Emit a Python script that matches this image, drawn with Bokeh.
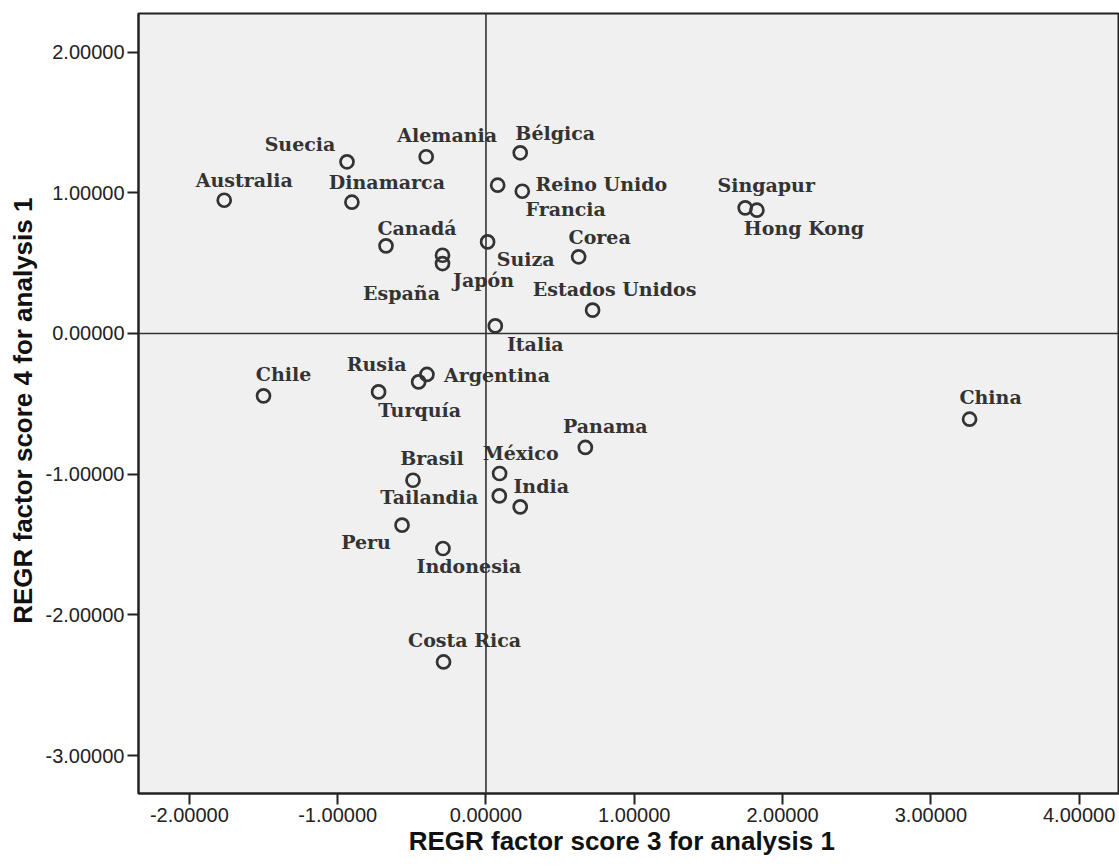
from bokeh.plotting import figure
from bokeh.models import ColumnDataSource, Span, PrintfTickFormatter, FixedTicker, Range1d
from bokeh.core.properties import value
from bokeh.embed import file_html
from bokeh.resources import INLINE

# ---- data ----
countries = ["Australia", "Suecia", "Dinamarca", "Alemania", "Bélgica", "Reino Unido",
             "Francia", "Singapur", "Hong Kong", "Canadá", "Suiza", "Corea", "Japón",
             "España", "Estados Unidos", "Italia", "Chile", "Rusia", "Argentina",
             "Turquía", "Panama", "México", "Tailandia", "India", "Brasil", "Peru",
             "Indonesia", "Costa Rica", "China"]
score3 = [-1.765, -0.937, -0.904, -0.403, 0.231, 0.245,
          0.079, 1.748, 1.827, -0.674, 0.011, 0.625, -0.293,
          -0.293, 0.719, 0.063, -1.500, -0.454, -0.398,
          -0.724, 0.670, 0.092, 0.090, 0.231, -0.492, -0.566,
          -0.290, -0.286, 3.261]
score4 = [0.947, 1.220, 0.933, 1.256, 1.284, 1.011,
          1.054, 0.893, 0.876, 0.623, 0.651, 0.545, 0.556,
          0.497, 0.166, 0.054, -0.443, -0.344, -0.291,
          -0.415, -0.810, -0.995, -1.154, -1.232, -1.043, -1.362,
          -1.528, -2.334, -0.609]
x_ticks = [-2, -1, 0, 1, 2, 3, 4]
y_ticks = [-3, -2, -1, 0, 1, 2]

# label placement (screen pixels relative to each point)
label_dx = [20, -47, 35, 21, 35, 79,
            68, 21, 47, 31, 38, 21, 41,
            -41, 22, 40, 20, -42, 70,
            41, 20, 21, -70, 21, 19, -36,
            26, 21, 21]
label_dy = [-20, -18, -20, -22, -20, -7,
            24, -23, 18, -18, 17, -20, 25,
            29, -21, 18, -22, -18, 1,
            18, -21, -21, 1, -21, -22, 17,
            17, -22, -22]

src = ColumnDataSource(dict(x=score3, y=score4, name=countries, dx=label_dx, dy=label_dy))

p = figure(width=1119, height=867, output_backend="svg", toolbar_location=None,
           x_range=Range1d(-2.343, 4.272), y_range=Range1d(-3.269, 2.274),
           min_border_left=138, min_border_right=0, min_border_top=13, min_border_bottom=74)

p.background_fill_color = "#f0f0f0"
p.border_fill_color = "white"
p.outline_line_color = "#222222"
p.outline_line_width = 2
p.grid.visible = False

p.add_layout(Span(location=0, dimension="height", line_color="#333333", line_width=1.6))
p.add_layout(Span(location=0, dimension="width", line_color="#333333", line_width=1.6))

p.scatter("x", "y", source=src, marker="circle", size=13, fill_color=None,
          line_color="#333333", line_width=2.7)

p.text("x", "y", text="name", source=src, x_offset="dx", y_offset="dy",
       text_align="center", text_baseline="middle",
       text_font=value("DejaVu Serif"), text_font_style="bold",
       text_font_size="19px", text_color="#333333")

for ax in (p.xaxis[0], p.yaxis[0]):
    ax.formatter = PrintfTickFormatter(format="%.5f")
    ax.axis_line_color = "#222222"
    ax.axis_line_width = 2
    ax.major_tick_line_color = "#222222"
    ax.major_tick_line_width = 2
    ax.major_tick_out = 11
    ax.major_tick_in = 0
    ax.minor_tick_line_color = None
    ax.major_label_text_font = "Liberation Sans"
    ax.major_label_text_font_size = "20px"
    ax.major_label_text_color = "#222222"
    ax.major_label_standoff = 3
    ax.axis_label_text_font = "Liberation Sans"
    ax.axis_label_text_font_style = "bold"
    ax.axis_label_text_font_size = "26px"
    ax.axis_label_text_color = "#111111"

p.xaxis[0].ticker = FixedTicker(ticks=x_ticks)
p.yaxis[0].ticker = FixedTicker(ticks=y_ticks)
p.xaxis[0].axis_label = "REGR factor score   3 for analysis 1"
p.yaxis[0].axis_label = "REGR factor score   4 for analysis 1"
p.xaxis[0].axis_label_standoff = 1
p.yaxis[0].axis_label_standoff = 5

open("out.html", "w").write(file_html(p, INLINE))
